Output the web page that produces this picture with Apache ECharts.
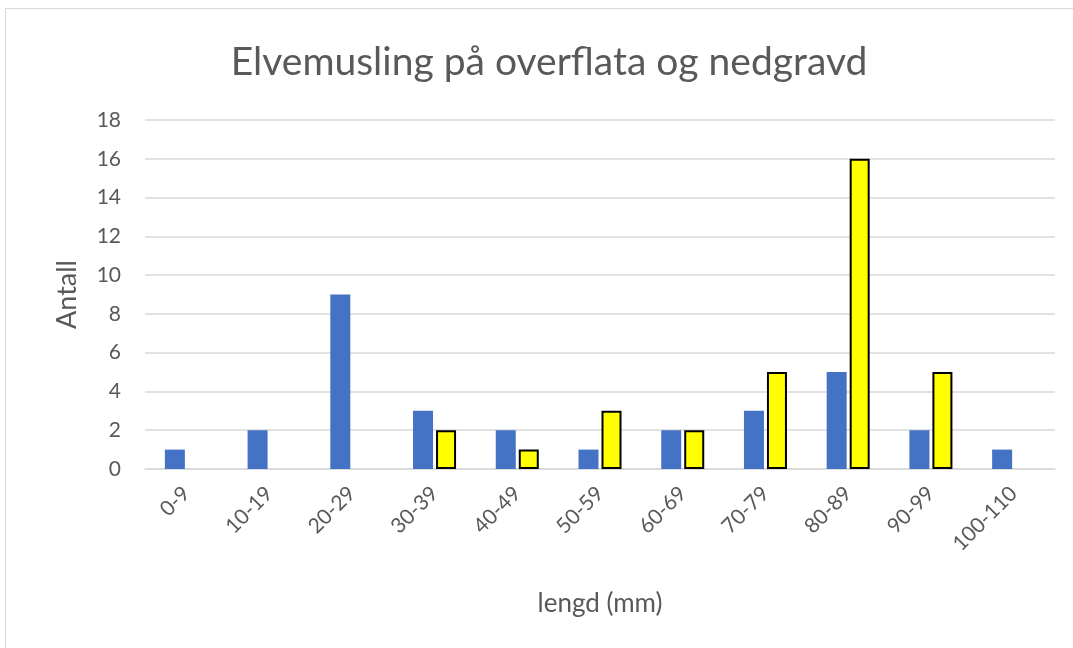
<!DOCTYPE html>
<html>
<head>
<meta charset="utf-8">
<script src="https://cdn.jsdelivr.net/npm/echarts@6/dist/echarts.min.js"></script>
<style>
  html, body { margin: 0; padding: 0; background: #fff; }
  #chart { width: 1073px; height: 648px; }
</style>
</head>
<body>
<div id="chart"></div>
<script>
// lengdeklasser
const categories = ['0-9', '10-19', '20-29', '30-39', '40-49', '50-59', '60-69', '70-79', '80-89', '90-99', '100-110']
// blå serie
const blueValues = [1, 2, 9, 3, 2, 1, 2, 3, 5, 2, 1]
// gul serie (ingen stolpe der tomt)
const yellowValues = [null, null, null, 2, 1, 3, 2, 5, 16, 5, null]

const textColor = '#595959'
const font = 'Lato, "Open Sans", sans-serif'

const chart = echarts.init(document.getElementById('chart'))
chart.setOption({
  animation: false,
  graphic: [
    {
      type: 'rect',
      shape: { x: 5.5, y: 8.5, width: 1080, height: 660 },
      style: { fill: 'none', stroke: '#d9d9d9', lineWidth: 1 },
      silent: true,
    },
  ],
  title: {
    text: 'Elvemusling på overflata og nedgravd',
    left: 544,
    textAlign: 'center',
    top: 38,
    textStyle: {
      color: textColor,
      fontFamily: font,
      fontSize: 39,
      fontWeight: 'normal',
    },
  },
  grid: {
    left: 145,
    right: 18,
    top: 120,
    bottom: 179,
  },
  xAxis: {
    type: 'category',
    data: categories,
    name: 'lengd (mm)',
    nameLocation: 'middle',
    nameGap: 122,
    nameTextStyle: { color: textColor, fontFamily: font, fontSize: 26 },
    axisTick: { show: false },
    axisLine: { lineStyle: { color: '#d9d9d9', width: 1.5 } },
    axisLabel: {
      rotate: 45,
      color: textColor,
      fontFamily: font,
      fontSize: 21,
      margin: 21,
    },
  },
  yAxis: {
    type: 'value',
    min: 0,
    max: 18,
    interval: 2,
    name: 'Antall',
    nameLocation: 'middle',
    nameGap: 64,
    nameTextStyle: { color: textColor, fontFamily: font, fontSize: 27 },
    axisLine: { show: false },
    axisTick: { show: false },
    axisLabel: { color: textColor, fontFamily: font, fontSize: 21, margin: 24 },
    splitLine: { lineStyle: { color: '#d9d9d9', width: 1.5 } },
  },
  series: [
    {
      type: 'bar',
      data: blueValues,
      barGap: '15%',
      barCategoryGap: '48%',
      itemStyle: { color: '#4472c4' },
    },
    {
      type: 'bar',
      data: yellowValues,
      itemStyle: { color: '#ffff00', borderColor: '#000', borderWidth: 2 },
    },
  ],
})
</script>
</body>
</html>
